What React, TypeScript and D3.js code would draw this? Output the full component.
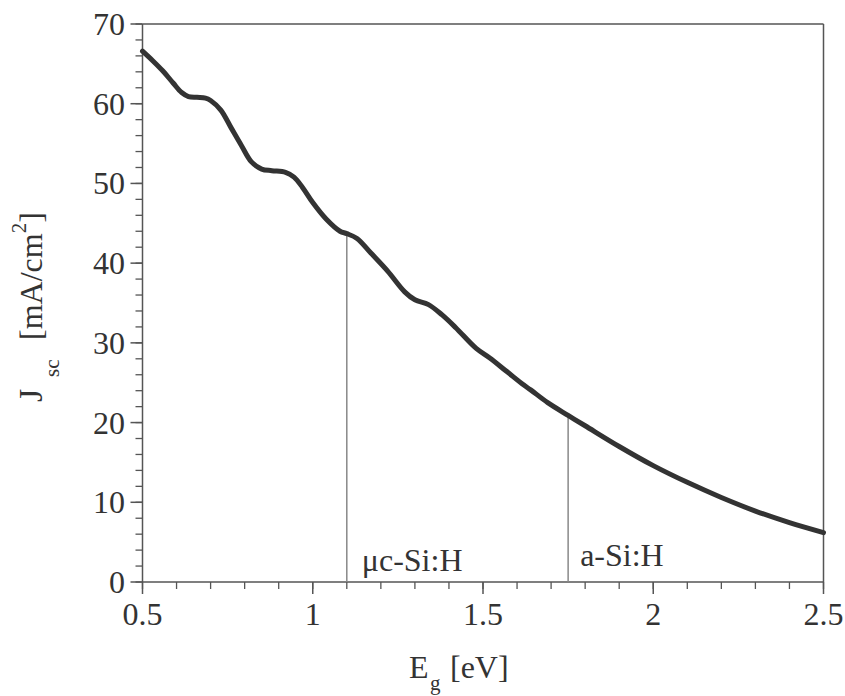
import React from "react";
import * as d3 from "d3";

const energy = [0.5, 0.53, 0.56, 0.59, 0.615, 0.635, 0.66, 0.685, 0.7, 0.73, 0.76, 0.79, 0.82, 0.85, 0.88, 0.92, 0.945, 0.97, 1.0, 1.04, 1.08, 1.1, 1.13, 1.17, 1.22, 1.27, 1.3, 1.34, 1.38, 1.42, 1.48, 1.52, 1.57, 1.62, 1.64, 1.69, 1.75, 1.8, 1.9, 2.0, 2.1, 2.2, 2.3, 2.4, 2.5];
const jsc = [66.6, 65.4, 64.1, 62.6, 61.4, 60.9, 60.8, 60.7, 60.4, 59.2, 57.0, 54.8, 52.7, 51.8, 51.6, 51.4, 50.8, 49.5, 47.6, 45.5, 44.0, 43.7, 43.1, 41.3, 39.0, 36.4, 35.4, 34.8, 33.5, 31.9, 29.3, 28.1, 26.4, 24.7, 24.1, 22.5, 20.9, 19.6, 17.0, 14.6, 12.5, 10.6, 8.9, 7.45, 6.2];

const xTicks = [0.5, 1, 1.5, 2, 2.5];
const xTickLabels = ["0.5", "1", "1.5", "2", "2.5"];
const yTicks = [0, 10, 20, 30, 40, 50, 60, 70];
const materials = ["μc-Si:H", "a-Si:H"];
const materialGaps = [1.1, 1.75];
const materialJ = [43.7, 20.9];

const W = 845;
const H = 696;
const left = 142.5, right = 823.5, top = 24, bottom = 582;
const FONT = "Liberation Serif, Tinos, Times New Roman, Times, serif";
const TXT = "#333";
const AX = "#555";

export default function App() {
  const x = d3.scaleLinear().domain([0.5, 2.5]).range([left, right]);
  const y = d3.scaleLinear().domain([0, 70]).range([bottom, top]);
  const pts: [number, number][] = energy.map((e, i) => [e, jsc[i]]);
  const line = d3
    .line<[number, number]>()
    .x((d) => x(d[0]))
    .y((d) => y(d[1]))
    .curve(d3.curveCatmullRom.alpha(0.5));

  const xMinor = d3.range(5, 26).map((v) => v / 10);
  const yMinor = d3.range(0, 71, 2);

  return (
    <svg
      width={W}
      height={H}
      style={{ position: "absolute", left: 0, top: 0, background: "#fff", fontFamily: FONT }}
    >
      {/* frame */}
      <line x1={left} x2={left} y1={top} y2={bottom} stroke={AX} strokeWidth={1.5} />
      <line x1={left} x2={right} y1={bottom} y2={bottom} stroke={AX} strokeWidth={1.5} />
      <line x1={left} x2={right} y1={top} y2={top} stroke={AX} strokeWidth={1.5} />
      <line x1={right} x2={right} y1={top} y2={bottom} stroke={AX} strokeWidth={1.5} />

      {/* x ticks */}
      {xMinor.map((v) => (
        <line key={"xm" + v} x1={x(v)} x2={x(v)} y1={bottom} y2={bottom + 7} stroke={AX} strokeWidth={1.3} />
      ))}
      {xTicks.map((v, i) => (
        <g key={"xt" + v}>
          <line x1={x(v)} x2={x(v)} y1={bottom} y2={bottom + 12} stroke={AX} strokeWidth={1.5} />
          <text x={x(v)} y={625} textAnchor="middle" fontSize={32} fill={TXT} style={{ fontFamily: FONT }}>
            {xTickLabels[i]}
          </text>
        </g>
      ))}

      {/* y ticks */}
      {yMinor.map((v) => (
        <line key={"ym" + v} x1={left - 7} x2={left} y1={y(v)} y2={y(v)} stroke={AX} strokeWidth={1.3} />
      ))}
      {yTicks.map((v) => (
        <g key={"yt" + v}>
          <line x1={left - 12} x2={left} y1={y(v)} y2={y(v)} stroke={AX} strokeWidth={1.5} />
          <text x={125} y={y(v) + 11} textAnchor="end" fontSize={32} fill={TXT} style={{ fontFamily: FONT }}>
            {v}
          </text>
        </g>
      ))}

      {/* material markers */}
      {materials.map((m, i) => (
        <g key={m}>
          <line
            x1={x(materialGaps[i])}
            x2={x(materialGaps[i])}
            y1={bottom}
            y2={y(materialJ[i])}
            stroke="#888"
            strokeWidth={1.5}
          />
          <text
            x={x(materialGaps[i]) + (i === 0 ? 15 : 12)}
            y={i === 0 ? 571 : 566}
            fontSize={32}
            fill={TXT}
            style={{ fontFamily: FONT }}
          >
            {m}
          </text>
        </g>
      ))}

      {/* curve */}
      <path d={line(pts) || ""} fill="none" stroke="#333" strokeWidth={5} strokeLinejoin="round" strokeLinecap="round" />

      {/* x title */}
      <g style={{ fontFamily: FONT }} fill={TXT}>
        <text x={409} y={678} fontSize={32}>E</text>
        <text x={430} y={690} fontSize={21}>g</text>
        <text x={450} y={678} fontSize={32}>[eV]</text>
      </g>

      {/* y title */}
      <g style={{ fontFamily: FONT }} fill={TXT}>
        <text transform="translate(42,402) rotate(-90)" fontSize={34}>J</text>
        <text transform="translate(59,377) rotate(-90)" fontSize={21}>sc</text>
        <text transform="translate(42,340) rotate(-90)" fontSize={32}>
          [mA/cm<tspan dy={-16} fontSize={21}>2</tspan>
          <tspan dy={16}>]</tspan>
        </text>
      </g>
    </svg>
  );
}
